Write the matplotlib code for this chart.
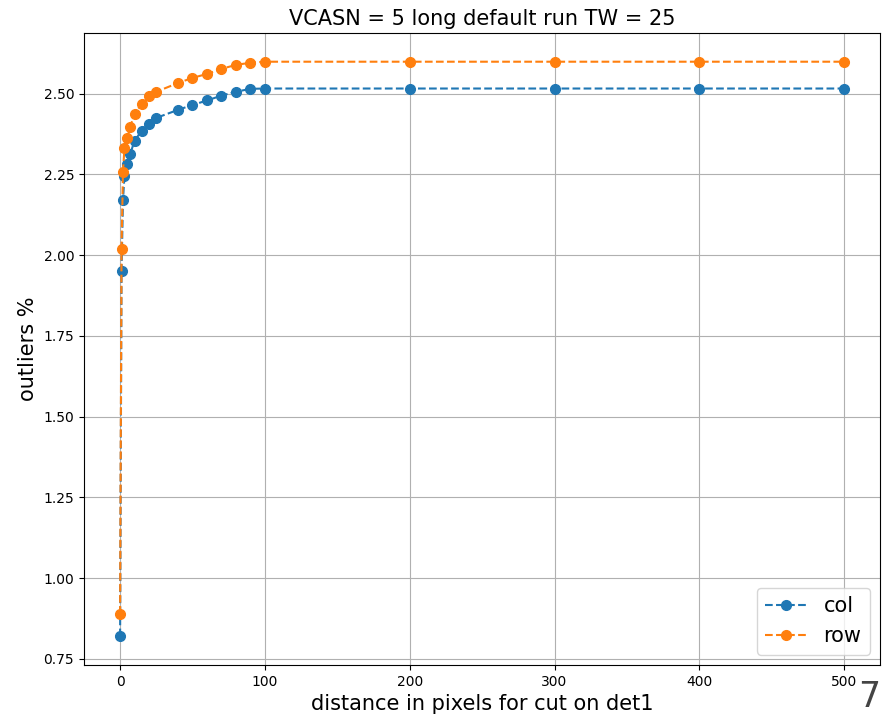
import matplotlib
matplotlib.use("Agg")
import matplotlib.pyplot as plt

# cut distance (pixels) and outlier fractions (%)
dist = [0, 1, 2, 3, 5, 7, 10, 15, 20, 25, 40, 50, 60, 70, 80, 90, 100, 200, 300, 400, 500]
col = [0.82, 1.95, 2.17, 2.245, 2.282, 2.314, 2.354, 2.386, 2.407, 2.425, 2.450,
       2.465, 2.479, 2.494, 2.506, 2.515, 2.516, 2.516, 2.516, 2.516, 2.516]
row = [0.89, 2.02, 2.259, 2.331, 2.362, 2.398, 2.437, 2.469, 2.492, 2.506, 2.533,
       2.549, 2.561, 2.577, 2.589, 2.596, 2.599, 2.599, 2.599, 2.599, 2.599]

fig = plt.figure(figsize=(8.83, 7.17), dpi=100)
ax = fig.add_axes([0.095, 0.0725, 0.902, 0.8815])
ax.plot(dist, col, "o--", ms=7, label="col")
ax.plot(dist, row, "o--", ms=7, label="row")
ax.set_title("VCASN = 5 long default run TW = 25", fontsize=15)
ax.set_xlabel("distance in pixels for cut on det1", fontsize=15)
ax.set_ylabel("outliers %", fontsize=15)
ax.legend(loc="lower right", fontsize=15)
ax.grid(True)
# stray page number in the lower right corner
fig.text(0.997, 0.004, "7", fontsize=25, color="#444444", ha="right", va="bottom")
fig.savefig("out.png", dpi=100)
